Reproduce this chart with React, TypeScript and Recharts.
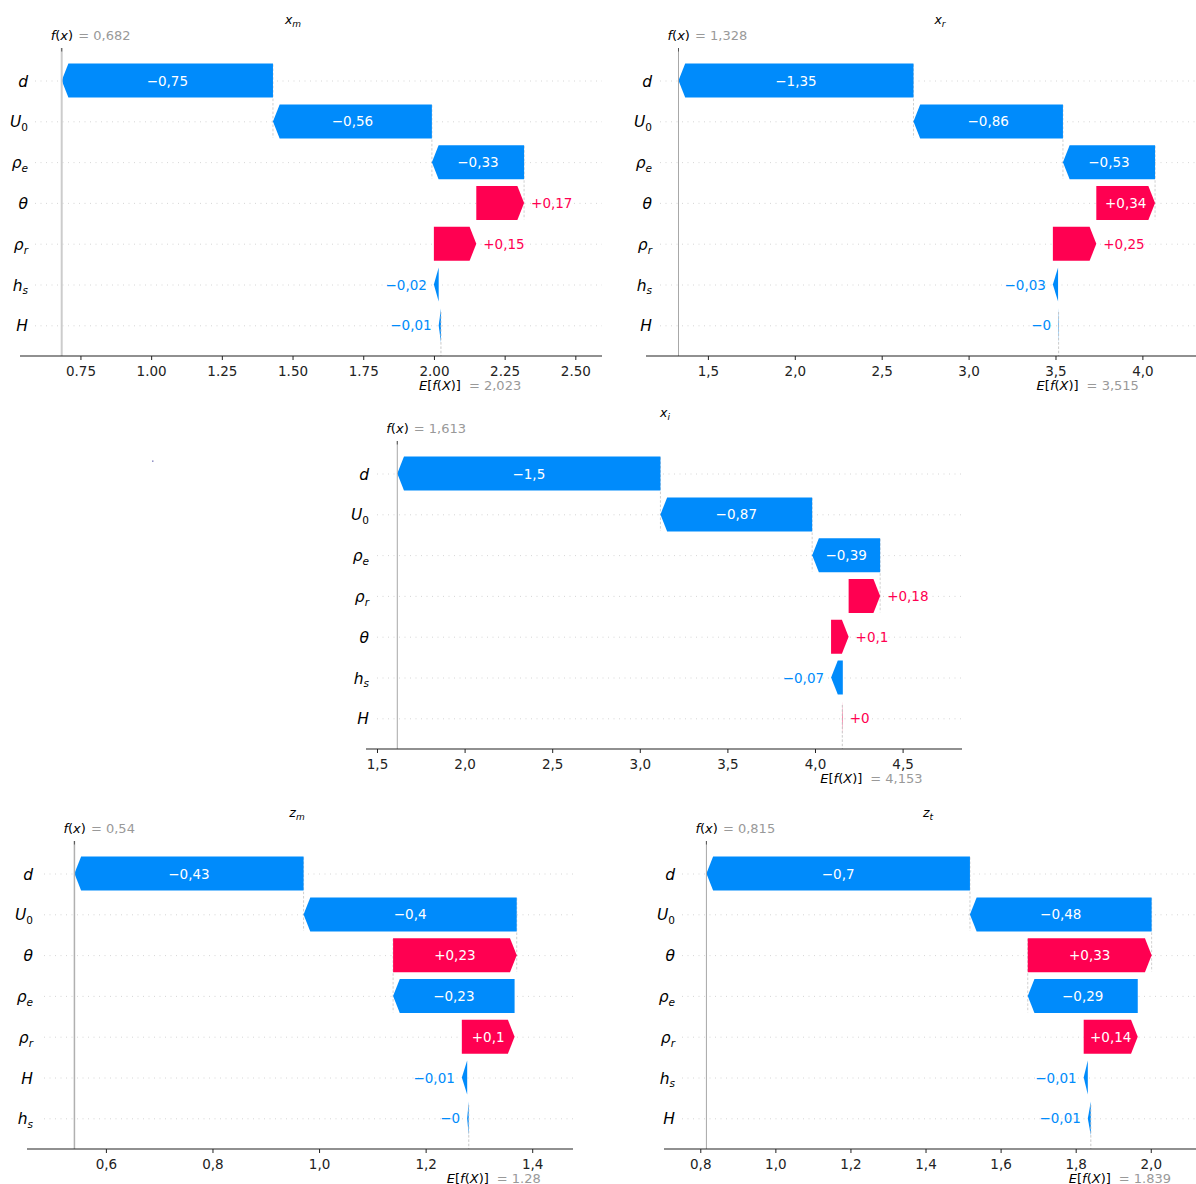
import React from "react";
import { BarChart, Bar, XAxis, YAxis, CartesianGrid, ReferenceLine, Customized } from "recharts";

const FONT = "DejaVu Sans";
const BLUE = "#008bfb";
const RED = "#ff0051";
const PAGE_W = 1196;
const PAGE_H = 1184;

// x_m
const XM_FEATURES = ["d", "U_0", "ρ_e", "θ", "ρ_r", "h_s", "H"];
const XM_SHAP = [-0.747, -0.562, -0.326, 0.169, 0.15, -0.017, -0.008];
const XM_BASE = 2.023;
const XM_FX = 0.682;
const XM_TICKS = [0.75, 1, 1.25, 1.5, 1.75, 2, 2.25, 2.5];

// x_r
const XR_FEATURES = ["d", "U_0", "ρ_e", "θ", "ρ_r", "h_s", "H"];
const XR_SHAP = [-1.352, -0.86, -0.53, 0.338, 0.25, -0.03, -0.003];
const XR_BASE = 3.515;
const XR_FX = 1.328;
const XR_TICKS = [1.5, 2, 2.5, 3, 3.5, 4];

// x_i
const XI_FEATURES = ["d", "U_0", "ρ_e", "ρ_r", "θ", "h_s", "H"];
const XI_SHAP = [-1.502, -0.866, -0.388, 0.18, 0.1, -0.067, 0.003];
const XI_BASE = 4.153;
const XI_FX = 1.613;
const XI_TICKS = [1.5, 2, 2.5, 3, 3.5, 4, 4.5];

// z_m
const ZM_FEATURES = ["d", "U_0", "θ", "ρ_e", "ρ_r", "H", "h_s"];
const ZM_SHAP = [-0.43, -0.4, 0.232, -0.228, 0.099, -0.01, -0.003];
const ZM_BASE = 1.28;
const ZM_FX = 0.54;
const ZM_TICKS = [0.6, 0.8, 1.0, 1.2, 1.4];

// z_t
const ZT_FEATURES = ["d", "U_0", "θ", "ρ_e", "ρ_r", "h_s", "H"];
const ZT_SHAP = [-0.702, -0.484, 0.33, -0.293, 0.144, -0.011, -0.008];
const ZT_BASE = 1.839;
const ZT_FX = 0.815;
const ZT_TICKS = [0.8, 1.0, 1.2, 1.4, 1.6, 1.8, 2.0];

const BAND = 40.8;
const BAR_H = 34;
const HEAD = 6.7;
const Y_W = 10;
const X_H = 30;
const VAL_SIZE = 13.5;

const dot2 = (v: number) => v.toFixed(2);
const comma1 = (v: number) => v.toFixed(1).replace(".", ",");

const PANELS = [
  { title: ["x", "m"], features: XM_FEATURES, shap: XM_SHAP, base: XM_BASE, fx: XM_FX, ticks: XM_TICKS,
    fxText: "0,682", baseText: "2,023", tickFmt: dot2, domain: [0.5345, 2.5925],
    axisLeft: 20, axisRight: 602, rowTop: 81, labelRight: 28, gridStart: 35, titleX: 293, fxStroke: "#cccccc", fxWidth: 2 },
  { title: ["x", "r"], features: XR_FEATURES, shap: XR_SHAP, base: XR_BASE, fx: XR_FX, ticks: XR_TICKS,
    fxText: "1,328", baseText: "3,515", tickFmt: comma1, domain: [1.141, 4.3056],
    axisLeft: 646, axisRight: 1196, rowTop: 81, labelRight: 652, gridStart: 660, titleX: 940, fxStroke: "#a8a8a8", fxWidth: 1 },
  { title: ["x", "i"], features: XI_FEATURES, shap: XI_SHAP, base: XI_BASE, fx: XI_FX, ticks: XI_TICKS,
    fxText: "1,613", baseText: "4,153", tickFmt: comma1, domain: [1.4344, 4.8362],
    axisLeft: 366, axisRight: 962, rowTop: 474, labelRight: 369, gridStart: 377, titleX: 665, fxStroke: "#a8a8a8", fxWidth: 1 },
  { title: ["z", "m"], features: ZM_FEATURES, shap: ZM_SHAP, base: ZM_BASE, fx: ZM_FX, ticks: ZM_TICKS,
    fxText: "0,54", baseText: "1.28", tickFmt: comma1, domain: [0.451, 1.4756],
    axisLeft: 27, axisRight: 573, rowTop: 874, labelRight: 33, gridStart: 44, titleX: 297, fxStroke: "#b0b0b0", fxWidth: 1.5 },
  { title: ["z", "t"], features: ZT_FEATURES, shap: ZT_SHAP, base: ZT_BASE, fx: ZT_FX, ticks: ZT_TICKS,
    fxText: "0,815", baseText: "1.839", tickFmt: comma1, domain: [0.702, 2.1192],
    axisLeft: 664, axisRight: 1196, rowTop: 874, labelRight: 675, gridStart: 682, titleX: 928, fxStroke: "#a8a8a8", fxWidth: 1 },
];

const CHAR_W: Record<string, number> = { "+": 0.838, "\u2212": 0.838, ",": 0.318, ".": 0.318 };
const textWidth = (s: string, size: number) =>
  s.split("").reduce((a, c) => a + (CHAR_W[c] ?? 0.636), 0) * size;

const fmtShap = (v: number) => {
  const r = Math.round(Math.abs(v) * 100) / 100;
  return (v < 0 ? "\u2212" : "+") + String(r).replace(".", ",");
};

// waterfall: start at the base value at the bottom row and walk up to f(x)
function buildRows(features: string[], shap: number[], base: number) {
  const rows = features.map((f, i) => ({ feature: f, value: shap[i], range: [0, 0] }));
  let cur = base;
  for (let i = rows.length - 1; i >= 0; i--) {
    const next = cur + rows[i].value;
    rows[i].range = [Math.min(cur, next), Math.max(cur, next)];
    cur = next;
  }
  return rows;
}

function ArrowBar(props: any) {
  const { x, y, width, height, payload, index, count } = props;
  const neg = payload.value < 0;
  const w = Math.max(width, 0.5);
  const h = Math.min(w, HEAD);
  const cy = y + height / 2;
  const pts = neg
    ? [[x, cy], [x + h, y], [x + w, y], [x + w, y + height], [x + h, y + height]]
    : [[x, y], [x + w - h, y], [x + w, cy], [x + w - h, y + height], [x, y + height]];
  const label = fmtShap(payload.value);
  const inside = w > textWidth(label, VAL_SIZE) + 10;
  const connX = neg ? x + w : x;
  return (
    <g>
      {index + 4 < count && (
        <line x1={connX} x2={connX} y1={cy - 0.4 * BAND} y2={cy + 1.4 * BAND}
          stroke="#bbbbbb" strokeWidth={0.7} strokeDasharray="2.5 1.8" />
      )}
      <polygon points={pts.map((p) => p.join(",")).join(" ")} fill={neg ? BLUE : RED} />
      <text
        x={inside ? x + w / 2 : neg ? x - 7 : x + w + 7}
        y={cy}
        textAnchor={inside ? "middle" : neg ? "end" : "start"}
        dominantBaseline="central"
        fontFamily={FONT}
        fontSize={VAL_SIZE}
        fill={inside ? "#fff" : neg ? BLUE : RED}
      >
        {label}
      </text>
    </g>
  );
}

function RowLabel({ x, y, name }: { x: number; y: number; name: string }) {
  const [main, sub] = name.split("_");
  const subItalic = sub && !/^\d$/.test(sub);
  return (
    <text x={x} y={y + 5.6} textAnchor="end" fontFamily={FONT} fontSize={15.5} fill="#000">
      <tspan fontStyle="italic">{main}</tspan>
      {sub && (
        <tspan dy={3.8} fontSize={10.5} fontStyle={subItalic ? "italic" : "normal"}>
          {sub}
        </tspan>
      )}
    </text>
  );
}

function FxLabel({ viewBox, text, stroke }: any) {
  const { x, y } = viewBox;
  return (
    <g>
      <line x1={x} x2={x} y1={y} y2={y + 3.5} stroke="#555" strokeWidth={1} />
      <text x={x - 11} y={y - 13} dominantBaseline="central" fontFamily={FONT} fontSize={13} fill="#000">
        <tspan fontStyle="italic">f</tspan>(<tspan fontStyle="italic">x</tspan>)
      </text>
      <text x={x + 16.5} y={y - 13} dominantBaseline="central" fontFamily={FONT} fontSize={13} fill="#999">
        = {text}
      </text>
    </g>
  );
}

function BaseLabel({ viewBox, text }: any) {
  const x = viewBox.x;
  const y = viewBox.y + viewBox.height + 29;
  return (
    <g>
      <text x={x - 22} y={y} dominantBaseline="central" fontFamily={FONT} fontSize={13} fill="#000">
        <tspan fontStyle="italic">E</tspan>[<tspan fontStyle="italic">f</tspan>(<tspan fontStyle="italic">X</tspan>)]
      </text>
      <text x={x + 28} y={y} dominantBaseline="central" fontFamily={FONT} fontSize={13} fill="#999">
        = {text}
      </text>
    </g>
  );
}

function Title({ x, y, main, sub, extra }: any) {
  return (
    <g>
      <text x={x} y={y + 3.5} textAnchor="middle" fontFamily={FONT} fontSize={12.5} fontStyle="italic" fill="#000">
        {main}
        <tspan dy={3} fontSize={9}>{sub}</tspan>
      </text>
      {extra}
    </g>
  );
}

function WaterfallPanel({ cfg, extra }: { cfg: (typeof PANELS)[number]; extra?: React.ReactNode }) {
  const rows = buildRows(cfg.features, cfg.shap, cfg.base);
  const n = rows.length;
  const plotTop = cfg.rowTop - 33;
  const axisY = cfg.rowTop + (n - 1) * BAND + 30.2;
  const margin = {
    top: plotTop,
    left: cfg.axisLeft - Y_W,
    right: PAGE_W - cfg.axisRight,
    bottom: PAGE_H - axisY - X_H,
  };
  return (
    <div style={{ position: "absolute", left: 0, top: 0 }}>
      <BarChart width={PAGE_W} height={PAGE_H} data={rows} layout="vertical" margin={margin}>
        <CartesianGrid
          vertical={false}
          syncWithTicks
          horizontal={(p: any) =>
            Math.abs(p.y1 - plotTop) < 1 || Math.abs(p.y1 - axisY) < 1 ? (
              <g key={p.key} />
            ) : (
              <line key={p.key} x1={cfg.gridStart} x2={p.x2} y1={p.y1} y2={p.y2}
                stroke="#cccccc" strokeWidth={0.8} strokeDasharray="1 4.5" />
            )
          }
        />
        <XAxis
          type="number"
          domain={cfg.domain}
          ticks={cfg.ticks}
          tickFormatter={cfg.tickFmt}
          allowDataOverflow
          interval={0}
          height={X_H}
          tickSize={4}
          tickMargin={6}
          axisLine={{ stroke: "#222", strokeWidth: 1.1 }}
          tickLine={{ stroke: "#222", strokeWidth: 1 }}
          tick={{ fill: "#222", fontSize: 13.5, fontFamily: FONT }}
        />
        <YAxis
          type="category"
          dataKey="feature"
          width={Y_W}
          interval={0}
          axisLine={false}
          tickLine={false}
          padding={{ top: 12.6, bottom: 9.8 }}
          tick={(p: any) => <RowLabel x={cfg.labelRight} y={p.y} name={p.payload.value} />}
        />
        <ReferenceLine
          x={cfg.fx}
          stroke={cfg.fxStroke}
          strokeWidth={cfg.fxWidth}
          ifOverflow="visible"
          label={(p: any) => <FxLabel viewBox={p.viewBox} text={cfg.fxText} />}
        />
        <ReferenceLine
          x={cfg.base}
          ifOverflow="visible"
          shape={(p: any) => {
            const yb = Math.max(p.y1, p.y2);
            const yt = Math.min(p.y1, p.y2);
            return (
              <line x1={p.x1} x2={p.x2} y1={yb - (yb - yt) / 7} y2={yb}
                stroke="#bbbbbb" strokeWidth={0.8} strokeDasharray="2.5 1.8" />
            );
          }}
          label={(p: any) => <BaseLabel viewBox={p.viewBox} text={cfg.baseText} />}
        />
        <Bar
          dataKey="range"
          barSize={BAR_H}
          isAnimationActive={false}
          shape={(p: any) => <ArrowBar {...p} count={n} />}
        />
        <Customized
          component={<Title x={cfg.titleX} y={plotTop - 28} main={cfg.title[0]} sub={cfg.title[1]} extra={extra} />}
        />
      </BarChart>
    </div>
  );
}

export default function App() {
  return (
    <div
      style={{
        position: "absolute",
        left: 0,
        top: 0,
        width: PAGE_W,
        height: PAGE_H,
        background: "#fff",
        fontFamily: FONT,
        overflow: "hidden",
      }}
    >
      {PANELS.map((cfg, i) => (
        <WaterfallPanel
          key={i}
          cfg={cfg}
          extra={i === 2 ? <rect x={152} y={460.5} width={1.5} height={1.3} fill="#7a7ab8" /> : null}
        />
      ))}
    </div>
  );
}
